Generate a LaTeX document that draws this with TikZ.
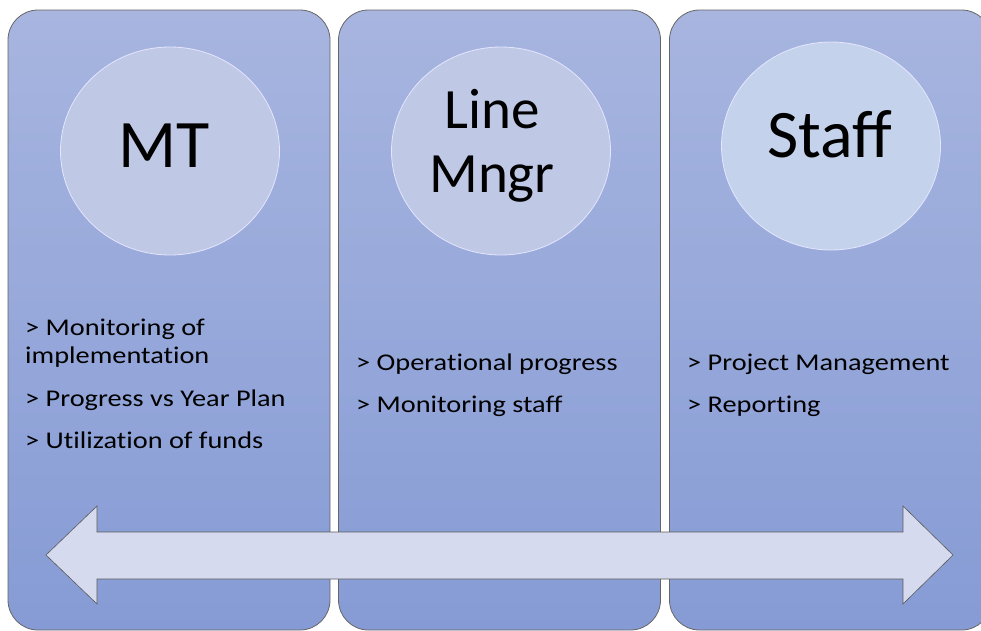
\documentclass[tikz,border=0pt]{standalone}
\usepackage{fontspec}
\setmainfont{Carlito}
\newfontfamily\itemfont[FakeStretch=1.18, Ligatures=NoCommon]{Carlito}
\usetikzlibrary{positioning, shapes.geometric}

\definecolor{paneltop}{RGB}{167,181,223}
\definecolor{panelbot}{RGB}{134,155,213}
\definecolor{roundfill}{RGB}{191,200,229}
\definecolor{staffill}{RGB}{196,211,235}
\definecolor{arrowfill}{RGB}{213,218,238}

\begin{document}
\begin{tikzpicture}[x=1pt, y=-1pt,
    panel/.style={draw=gray!80!black, line width=0.8pt, rounded corners=30pt,
        top color=paneltop, bottom color=panelbot,
        minimum width=322pt, minimum height=620pt, inner sep=0pt},
    role/.style={ellipse, draw=white!90!blue, line width=0.8pt, fill=roundfill,
        minimum width=219pt, minimum height=208pt, inner sep=0pt},
    rolename/.style={anchor=base, inner sep=0pt, align=center},
    item/.style={anchor=base west, inner sep=0pt, align=left,
        font=\itemfont\fontsize{24}{28}\selectfont}]

    \useasboundingbox (0,0) rectangle (981,630);

    % columns
    \node[panel] (p_mt)    at (169,320) {};
    \node[panel] (p_line)  at (499.5,320) {};
    \node[panel] (p_staff) at (830.5,320) {};

    \node[role] (mt)    at (170,151) {};
    \node[role] (line)  at (501,151) {};
    \node[role, fill=staffill] (staff) at (831,146) {};

    \node[rolename, font=\fontsize{68}{70}\selectfont] (mt_t) at (164,167) {MT};
    \node[rolename, font=\fontsize{57}{64}\selectfont] (line_t) at (492,192) {Line\\Mngr};
    \node[rolename, font=\fontsize{68}{70}\selectfont] (staff_t) at (830,157) {Staff};

    % tasks
    \node[item] (mt_1) at (25,363) {> Monitoring of\\implementation};
    \node[item] (mt_2) at (25,406) {> Progress vs Year Plan};
    \node[item] (mt_3) at (25,448) {> Utilization of funds};

    \node[item] (line_1) at (356,370) {> Operational progress};
    \node[item] (line_2) at (356,412) {> Monitoring staff};

    \node[item] (staff_1) at (687,370) {> Project Management};
    \node[item] (staff_2) at (687,412) {> Reporting};

    % arrow across
    \draw[gray!70!black, line width=0.6pt, fill=arrowfill]
    (46,555) -- (97,506) -- (97,532) -- (903,532) -- (903,506) -- (953,555)
    -- (903,604) -- (903,579) -- (97,579) -- (97,604) -- cycle;
\end{tikzpicture}
\end{document}
